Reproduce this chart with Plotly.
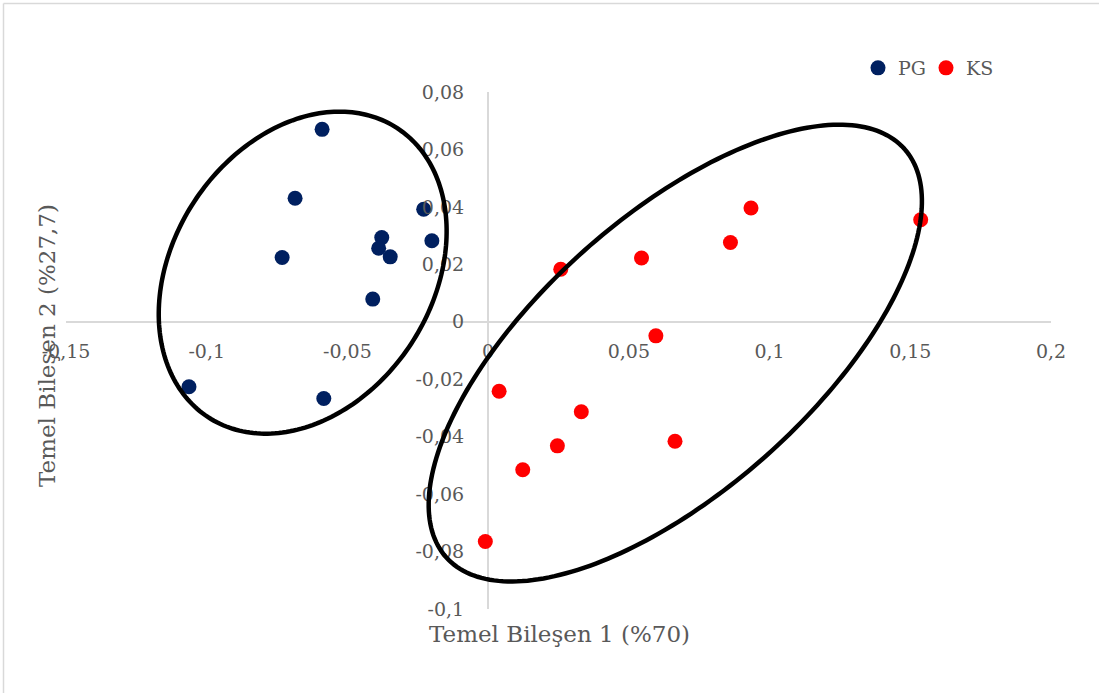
import numpy as np
import plotly.graph_objects as go

# ---------------- data ----------------
pg_x = [-0.0590, -0.0686, -0.0229, -0.0200, -0.0378, -0.0389, -0.0348, -0.0732, -0.0410, -0.1063, -0.0584]
pg_y = [0.0670, 0.0430, 0.0392, 0.0282, 0.0293, 0.0256, 0.0226, 0.0224, 0.0079, -0.0226, -0.0267]

ks_x = [0.0258, 0.0545, 0.0934, 0.0861, 0.1537, 0.0596, 0.0039, 0.0331, 0.0246, 0.0664, 0.0123, -0.0010]
ks_y = [0.0183, 0.0222, 0.0396, 0.0276, 0.0355, -0.0049, -0.0242, -0.0313, -0.0432, -0.0416, -0.0515, -0.0765]

x_tickvals = [-0.15, -0.1, -0.05, 0, 0.05, 0.1, 0.15, 0.2]
x_ticktext = ["-0,15", "-0,1", "-0,05", "0", "0,05", "0,1", "0,15", "0,2"]
y_tickvals = [-0.1, -0.08, -0.06, -0.04, -0.02, 0, 0.02, 0.04, 0.06, 0.08]
y_ticktext = ["-0,1", "-0,08", "-0,06", "-0,04", "-0,02", "0", "0,02", "0,04", "0,06", "0,08"]

series_names = ["PG", "KS"]
x_title = "Temel Bileşen 1 (%70)"
y_title = "Temel Bileşen 2 (%27,7)"

# group ellipses: centre (data), semi-axes (px), tilt (deg)
ell_cx = [-0.0659, 0.0665]
ell_cy = [0.0171, -0.0109]
ell_a = [172.7, 306.9]
ell_b = [129.7, 137.1]
ell_deg = [56.8, 41.7]

# ---------------- layout geometry ----------------
W, H = 1099, 693
ML, MR, MT, MB = 66, 48, 92, 84
XR = [-0.15, 0.2]
YR = [-0.1, 0.08]
PW, PH = W - ML - MR, H - MT - MB
pxx = PW / (XR[1] - XR[0])
pxy = PH / (YR[1] - YR[0])

FONT = "DejaVu Serif"
GREY = "#595959"
AX = "#d9d9d9"

fig = go.Figure()
fig.add_trace(go.Scatter(x=pg_x, y=pg_y, mode="markers", name=series_names[0],
                         marker=dict(color="#002060", size=15)))
fig.add_trace(go.Scatter(x=ks_x, y=ks_y, mode="markers", name=series_names[1],
                         marker=dict(color="#FF0000", size=15)))

shapes = []
t = np.linspace(0, 2 * np.pi, 241)
for cx, cy, a, b, d in zip(ell_cx, ell_cy, ell_a, ell_b, ell_deg):
    th = np.radians(d)
    dx = a * np.cos(t) * np.cos(th) - b * np.sin(t) * np.sin(th)
    dy = a * np.cos(t) * np.sin(th) + b * np.sin(t) * np.cos(th)
    xs = cx + dx / pxx
    ys = cy + dy / pxy
    path = "M " + " L ".join(f"{u:.6f},{v:.6f}" for u, v in zip(xs, ys)) + " Z"
    shapes.append(dict(type="path", path=path, xref="x", yref="y",
                       line=dict(color="black", width=4.5), layer="above"))

def px2paper_x(p):
    return (p - ML) / PW

def px2paper_y(p):
    return 1 - (p - MT) / PH

# chart border (left and top visible)
shapes.append(dict(type="line", xref="paper", yref="paper",
                   x0=px2paper_x(3.5), x1=px2paper_x(3.5), y0=px2paper_y(3.5), y1=px2paper_y(H + 5),
                   line=dict(color=AX, width=1.5)))
shapes.append(dict(type="line", xref="paper", yref="paper",
                   x0=px2paper_x(3.5), x1=px2paper_x(W + 5), y0=px2paper_y(3.5), y1=px2paper_y(3.5),
                   line=dict(color=AX, width=1.5)))

fig.update_layout(
    width=W, height=H,
    margin=dict(l=ML, r=MR, t=MT, b=MB),
    paper_bgcolor="white", plot_bgcolor="white",
    font=dict(family=FONT, color=GREY, size=19),
    showlegend=True,
    legend=dict(orientation="h", x=px2paper_x(858), y=px2paper_y(49), xanchor="left", yanchor="top",
                font=dict(family=FONT, size=19, color=GREY), bgcolor="rgba(0,0,0,0)",
                itemwidth=30, tracegroupgap=0, entrywidth=23, entrywidthmode="pixels"),
    xaxis=dict(range=XR, tickvals=x_tickvals, ticktext=x_ticktext, showgrid=False,
               zeroline=True, zerolinecolor=AX, zerolinewidth=1.5, showline=False,
               anchor="free", position=(0 - YR[0]) / (YR[1] - YR[0]), ticks="",
               ticklabelstandoff=16, tickfont=dict(family=FONT, size=19, color=GREY)),
    yaxis=dict(range=YR, tickvals=y_tickvals, ticktext=y_ticktext, showgrid=False,
               zeroline=True, zerolinecolor=AX, zerolinewidth=1.5, showline=False,
               anchor="free", position=(0 - XR[0]) / (XR[1] - XR[0]), ticks="",
               ticklabelstandoff=24, tickfont=dict(family=FONT, size=19, color=GREY)),
    shapes=shapes,
    annotations=[
        dict(text=x_title, xref="paper", yref="paper", x=px2paper_x(559), y=px2paper_y(634),
             xanchor="center", yanchor="middle", showarrow=False,
             font=dict(family=FONT, size=23, color=GREY)),
        dict(text=y_title, xref="paper", yref="paper", x=px2paper_x(47), y=px2paper_y(346),
             xanchor="center", yanchor="middle", showarrow=False, textangle=-90,
             font=dict(family=FONT, size=23, color=GREY)),
    ],
)

fig.write_html("out.html", config={"displayModeBar": False},
               post_script="document.body.style.margin='0';document.body.style.overflow='hidden';")
